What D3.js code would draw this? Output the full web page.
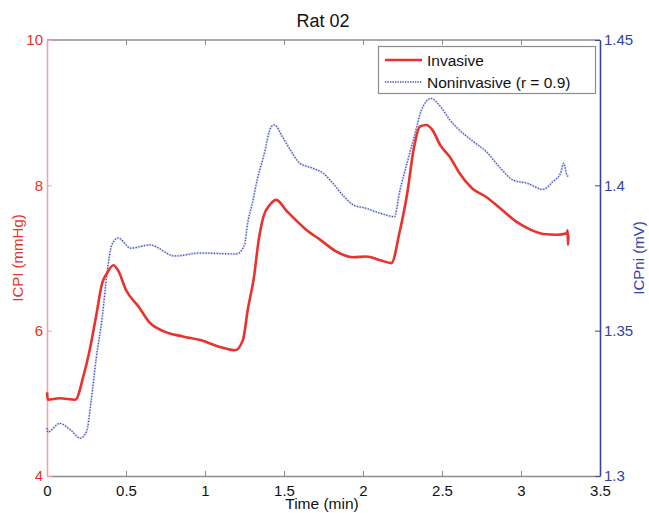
<!DOCTYPE html>
<html><head><meta charset="utf-8">
<script src="https://cdn.jsdelivr.net/npm/d3@7"></script>
<style>body{margin:0;background:#fff}svg{font-family:"Liberation Sans",Arial,sans-serif}</style>
</head><body><svg id="c" width="649" height="513"></svg>
<script>
const invT = [0,0.005,0.08,0.18,0.23,0.27,0.31,0.35,0.38,0.42,0.45,0.50,0.58,0.65,0.74,0.86,0.97,1.09,1.19,1.24,1.27,1.31,1.34,1.37,1.41,1.45,1.52,1.64,1.73,1.83,1.94,2.02,2.11,2.18,2.23,2.28,2.32,2.36,2.40,2.44,2.49,2.55,2.61,2.69,2.78,2.87,2.97,3.06,3.14,3.23,3.29,3.295,3.298,3.30];
const invV = [5.15,5.05,5.07,5.05,5.37,5.73,6.19,6.66,6.79,6.90,6.83,6.56,6.33,6.11,5.99,5.92,5.87,5.78,5.73,5.87,6.28,6.74,7.25,7.57,7.73,7.80,7.64,7.39,7.25,7.09,7.01,7.02,6.97,6.93,7.34,7.89,8.49,8.81,8.83,8.76,8.55,8.39,8.17,7.96,7.84,7.68,7.50,7.39,7.33,7.32,7.34,7.38,7.18,7.32];
const nonT = [0,0.005,0.08,0.15,0.21,0.25,0.28,0.31,0.35,0.38,0.41,0.45,0.53,0.65,0.81,0.97,1.20,1.25,1.27,1.30,1.33,1.37,1.42,1.44,1.49,1.54,1.60,1.68,1.75,1.81,1.88,1.94,2.02,2.11,2.20,2.23,2.29,2.33,2.37,2.43,2.49,2.55,2.61,2.70,2.78,2.87,2.95,3.04,3.14,3.20,3.25,3.27,3.29,3.30];
const nonV = [1.3165,1.3151,1.3181,1.3158,1.3130,1.3152,1.3261,1.3399,1.3548,1.3698,1.3795,1.3819,1.3784,1.3795,1.3757,1.3767,1.3764,1.3795,1.3870,1.3939,1.4018,1.4098,1.4202,1.4208,1.4167,1.4122,1.4076,1.4059,1.4041,1.4007,1.3961,1.3932,1.3921,1.3904,1.3892,1.3973,1.4099,1.4179,1.4259,1.4299,1.4271,1.4225,1.4190,1.4150,1.4116,1.4059,1.4018,1.4007,1.3986,1.4012,1.4041,1.4076,1.4036,1.4030];
const xTicks = [0,0.5,1,1.5,2,2.5,3,3.5];
const xTickLabels = ["0","0.5","1","1.5","2","2.5","3","3.5"];
const yLTicks = [4,6,8,10];
const yRTicks = [1.3,1.35,1.4,1.45];
const yRTickLabels = ["1.3","1.35","1.4","1.45"];
const seriesNames = ["Invasive","Noninvasive (r = 0.9)"];

const RED="#e8322b", BLUE="#3442a8";
const L=47,R=600,T=40,B=476;
const FF="Liberation Sans, Arial, sans-serif";
const svg=d3.select("#c");
const x=d3.scaleLinear().domain([0,3.5]).range([L,R]);
const yl=d3.scaleLinear().domain([4,10]).range([B,T]);
const yr=d3.scaleLinear().domain([1.3,1.45]).range([B,T]);

svg.append("line").attr("x1",L).attr("x2",R).attr("y1",T).attr("y2",T).attr("stroke","#8c8c8c").attr("stroke-width",1.3);
const gx=svg.append("g").attr("transform",`translate(0,${B})`)
  .call(d3.axisBottom(x).tickValues(xTicks).tickFormat((d,i)=>xTickLabels[i]).tickSizeInner(-5).tickSizeOuter(0).tickPadding(9));
gx.select(".domain").attr("stroke","#8c8c8c").attr("stroke-width",1.3);
gx.selectAll(".tick line").attr("stroke","#8c8c8c");
gx.selectAll("text").attr("font-size",15).attr("fill","#111").attr("font-family",FF);
const gxt=svg.append("g").attr("transform",`translate(0,${T})`)
  .call(d3.axisTop(x).tickValues(xTicks).tickFormat("").tickSizeInner(-5).tickSizeOuter(0));
gxt.select(".domain").remove();
gxt.selectAll(".tick line").attr("stroke","#8c8c8c");

const gl=svg.append("g").attr("transform",`translate(${L},0)`)
  .call(d3.axisLeft(yl).tickValues(yLTicks).tickFormat(d3.format("d")).tickSizeInner(-5).tickSizeOuter(0).tickPadding(4));
gl.select(".domain").attr("stroke","#f4a3a3").attr("stroke-width",1.6);
gl.selectAll(".tick line").attr("stroke","#f4a3a3");
gl.selectAll("text").attr("font-size",15).attr("fill",RED).attr("font-family",FF);

const gr=svg.append("g").attr("transform",`translate(${R},0)`)
  .call(d3.axisRight(yr).tickValues(yRTicks).tickFormat((d,i)=>yRTickLabels[i]).tickSizeInner(-5).tickSizeOuter(0).tickPadding(4));
gr.select(".domain").attr("stroke",BLUE).attr("stroke-width",1.6);
gr.selectAll(".tick line").attr("stroke",BLUE);
gr.selectAll("text").attr("font-size",15).attr("fill",BLUE).attr("font-family",FF);

const nonData=nonT.map((t,i)=>[t,nonV[i]]);
const invData=invT.map((t,i)=>[t,invV[i]]);
const nonLine=d3.line().x(d=>x(d[0])).y(d=>yr(d[1])).curve(d3.curveMonotoneX);
svg.append("path").datum(nonData).attr("d",nonLine)
  .attr("fill","none").attr("stroke","#c3c8ec").attr("stroke-width",2.4).attr("opacity",0.55);
svg.append("path").datum(nonData).attr("d",nonLine)
  .attr("fill","none").attr("stroke","#3a48b0").attr("stroke-width",1.3).attr("stroke-dasharray","1.2,1.6");
svg.append("path").datum(invData)
  .attr("d",d3.line().x(d=>x(d[0])).y(d=>yl(d[1])).curve(d3.curveMonotoneX))
  .attr("fill","none").attr("stroke",RED).attr("stroke-width",2.6).attr("stroke-linejoin","round");

const lg=svg.append("g");
lg.append("rect").attr("x",378.5).attr("y",46.5).attr("width",217).attr("height",47).attr("fill","#fff").attr("stroke","#8c8c8c").attr("stroke-width",1.2);
lg.append("line").attr("x1",385).attr("x2",422).attr("y1",60).attr("y2",60).attr("stroke",RED).attr("stroke-width",2.6);
lg.append("line").attr("x1",385).attr("x2",422).attr("y1",82).attr("y2",82).attr("stroke","#3a48b0").attr("stroke-width",1.3).attr("stroke-dasharray","1.3,1.2");
lg.selectAll("text.lt").data(seriesNames).join("text").attr("class","lt")
  .attr("x",427).attr("y",(d,i)=>66+i*22).attr("font-size",15.5).attr("fill","#111").text(d=>d);

svg.append("text").attr("x",323).attr("y",27).attr("text-anchor","middle").attr("font-size",18).attr("fill","#111").text("Rat 02");
svg.append("text").attr("x",322).attr("y",509).attr("text-anchor","middle").attr("font-size",15.5).attr("fill","#111").text("Time (min)");
svg.append("text").attr("transform","translate(23,258) rotate(-90)").attr("text-anchor","middle").attr("font-size",15).attr("fill",RED).text("ICPI (mmHg)");
svg.append("text").attr("transform","translate(644,258) rotate(-90)").attr("text-anchor","middle").attr("font-size",15).attr("fill",BLUE).text("ICPni (mV)");
</script></body></html>
